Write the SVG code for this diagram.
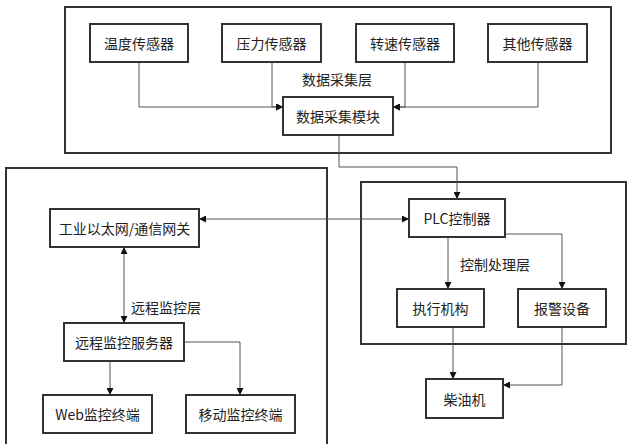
<svg xmlns="http://www.w3.org/2000/svg" width="627" height="444" viewBox="0 0 627 444">
<style>
.layer{fill:none;stroke:#333;stroke-width:2}
.box{fill:#fff;stroke:#333;stroke-width:2}
.t{font-family:"Noto Sans CJK SC","Liberation Sans",sans-serif;font-size:14px;fill:#222;text-anchor:middle;dominant-baseline:central}
.c{fill:none;stroke:#555;stroke-width:1}
</style>
<defs>
<marker id="ah" viewBox="0 0 10 10" refX="10" refY="5" markerWidth="7" markerHeight="7" orient="auto-start-reverse" markerUnits="userSpaceOnUse">
<path d="M0,0 L10,5 L0,10 z" fill="#111"/>
</marker>
</defs>
<rect width="627" height="444" fill="#fff"/>
<g id="layers">
<rect class="layer" x="65" y="7" width="546" height="146"/>
<rect class="layer" x="6" y="168" width="321" height="290"/>
<rect class="layer" x="361" y="182" width="265" height="162"/>
</g>
<g id="labels">
<text class="t" x="337" y="79">数据采集层</text>
<text class="t" x="166" y="307">远程监控层</text>
<text class="t" x="495" y="264">控制处理层</text>
</g>
<g id="connectors">
<path class="c" d="M139,62 V107 H283" marker-end="url(#ah)"/>
<path class="c" d="M272,62 V107 H283" marker-end="url(#ah)"/>
<path class="c" d="M405,62 V107 H393" marker-end="url(#ah)"/>
<path class="c" d="M538,62 V107 H393" marker-end="url(#ah)"/>
<path class="c" d="M339,135 V167 H457 V199" marker-end="url(#ah)"/>
<path class="c" d="M199,219 H409" marker-start="url(#ah)" marker-end="url(#ah)"/>
<path class="c" d="M124,247 V323" marker-start="url(#ah)" marker-end="url(#ah)"/>
<path class="c" d="M110,361 V395" marker-end="url(#ah)"/>
<path class="c" d="M184,342 H240 V395" marker-end="url(#ah)"/>
<path class="c" d="M448,237 V289" marker-end="url(#ah)"/>
<path class="c" d="M505,234 H562 V289" marker-end="url(#ah)"/>
<path class="c" d="M453,327 V379" marker-end="url(#ah)"/>
<path class="c" d="M562,327 V385 H503" marker-end="url(#ah)"/>
</g>
<g id="n-temp"><rect class="box" x="90" y="24" width="98" height="38"/><text class="t" x="139" y="43">温度传感器</text></g>
<g id="n-press"><rect class="box" x="222" y="24" width="99" height="38"/><text class="t" x="271.5" y="43">压力传感器</text></g>
<g id="n-speed"><rect class="box" x="356" y="24" width="98" height="38"/><text class="t" x="405" y="43">转速传感器</text></g>
<g id="n-other"><rect class="box" x="488" y="24" width="99" height="38"/><text class="t" x="537.5" y="43">其他传感器</text></g>
<g id="n-daq"><rect class="box" x="283" y="97" width="110" height="38"/><text class="t" x="338" y="116">数据采集模块</text></g>
<g id="n-gw"><rect class="box" x="50" y="209" width="149" height="38"/><text class="t" x="124.5" y="228">工业以太网/通信网关</text></g>
<g id="n-server"><rect class="box" x="64" y="323" width="120" height="38"/><text class="t" x="124" y="342">远程监控服务器</text></g>
<g id="n-web"><rect class="box" x="43" y="395" width="109" height="38"/><text class="t" x="97.5" y="414">Web监控终端</text></g>
<g id="n-mobile"><rect class="box" x="186" y="395" width="109" height="38"/><text class="t" x="240.5" y="414">移动监控终端</text></g>
<g id="n-plc"><rect class="box" x="409" y="199" width="96" height="38"/><text class="t" x="457" y="218">PLC控制器</text></g>
<g id="n-act"><rect class="box" x="397" y="289" width="87" height="38"/><text class="t" x="440.5" y="308">执行机构</text></g>
<g id="n-alarm"><rect class="box" x="518" y="289" width="88" height="38"/><text class="t" x="562" y="308">报警设备</text></g>
<g id="n-diesel"><rect class="box" x="426" y="379" width="77" height="39"/><text class="t" x="464.5" y="398.5">柴油机</text></g>
</svg>
